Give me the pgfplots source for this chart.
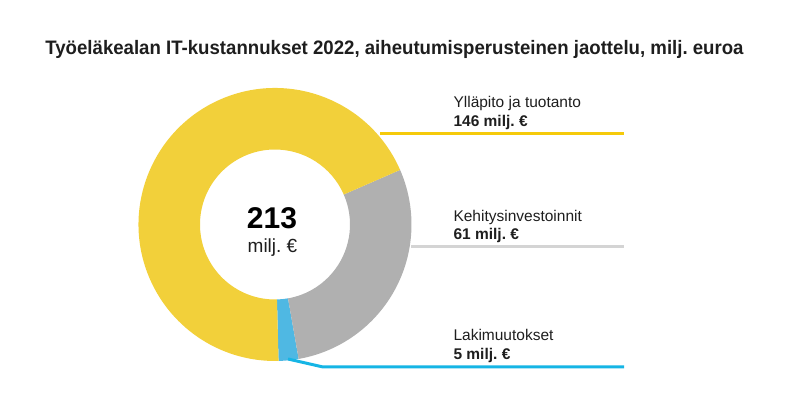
\documentclass[border=0pt]{standalone}
\usepackage{pgfplots}
\usepackage{pgfplotstable}
\pgfplotsset{compat=1.18}
\usepackage{fontspec}
\setmainfont{Liberation Sans}
\newfontfamily\condfont[FakeStretch=0.955]{Liberation Sans}
\frenchspacing
\definecolor{cYel}{HTML}{F2D03A}
\definecolor{cGray}{HTML}{B0B0B0}
\definecolor{cBlue}{HTML}{4FB8E3}
\definecolor{lYel}{HTML}{F5CA0A}
\definecolor{lGray}{HTML}{D4D4D4}
\definecolor{lBlue}{HTML}{16B5E5}
\definecolor{cText}{HTML}{1E1E1E}

\pgfplotstableread{
idx value
0 5
1 61
2 146
}\donutdata

\newcommand\donutwedge[3]{%
  \fill[#1] (axis cs:275,170.5) ++(#2:136.5pt) arc[start angle=#2,end angle=#3,radius=136.5pt]
    -- ++(#3:-61.5pt) arc[start angle=#3,end angle=#2,radius=75pt] -- cycle;}

\begin{document}
\frenchspacing
\begin{tikzpicture}
\pgfplotstablegetelem{0}{value}\of\donutdata\xdef\vA{\pgfplotsretval}
\pgfplotstablegetelem{1}{value}\of\donutdata\xdef\vB{\pgfplotsretval}
\pgfplotstablegetelem{2}{value}\of\donutdata\xdef\vC{\pgfplotsretval}
\pgfmathsetmacro\tot{\vA+\vB+\vC}\xdef\tot{\tot}
\xdef\aS{-88.5}
\pgfmathsetmacro\aA{\aS+\vA/\tot*360}\xdef\aA{\aA}
\pgfmathsetmacro\aB{\aA+\vB/\tot*360}\xdef\aB{\aB}
\pgfmathsetmacro\aC{\aS+360}\xdef\aC{\aC}
\begin{axis}[width=790pt,height=395pt,scale only axis,
  xmin=0,xmax=790,ymin=0,ymax=395,hide axis,clip=false]
\path (axis cs:0,0) rectangle (axis cs:790,395);
\donutwedge{cBlue}{\aS}{\aA}
\donutwedge{cGray}{\aA}{\aB}
\donutwedge{cYel}{\aB}{\aC}
% leader lines
\draw[lYel,line width=3pt] (axis cs:380,261) -- (axis cs:624,261);
\draw[lGray,line width=3pt] (axis cs:411,148) -- (axis cs:624,148);
\draw[lBlue,line width=3pt] (axis cs:288,36) -- (axis cs:323,28) -- (axis cs:624,28);
% title
\node[anchor=base,text=cText,font=\condfont\bfseries\fontsize{19.5}{23}\selectfont] at (axis cs:394.5,340)
  {Työeläkealan IT-kustannukset 2022, aiheutumisperusteinen jaottelu, milj. euroa};
% center
\node[anchor=base,text=black,font=\bfseries\fontsize{30}{34}\selectfont] at (axis cs:272,166) {213};
\node[anchor=base,text=cText,font=\fontsize{19}{22}\selectfont] at (axis cs:272.5,142) {milj. €};
% labels
\node[anchor=base west,text=cText,font=\fontsize{15.5}{18}\selectfont] at (axis cs:450,287) {Ylläpito ja tuotanto};
\node[anchor=base west,text=cText,font=\bfseries\fontsize{15.5}{18}\selectfont] at (axis cs:450,268) {146 milj. €};
\node[anchor=base west,text=cText,font=\fontsize{15.5}{18}\selectfont] at (axis cs:450,173.3) {Kehitysinvestoinnit};
\node[anchor=base west,text=cText,font=\bfseries\fontsize{15.5}{18}\selectfont] at (axis cs:450,155) {61 milj. €};
\node[anchor=base west,text=cText,font=\fontsize{15.5}{18}\selectfont] at (axis cs:450,54) {Lakimuutokset};
\node[anchor=base west,text=cText,font=\bfseries\fontsize{15.5}{18}\selectfont] at (axis cs:450,35.7) {5 milj. €};
\end{axis}
\end{tikzpicture}
\end{document}
